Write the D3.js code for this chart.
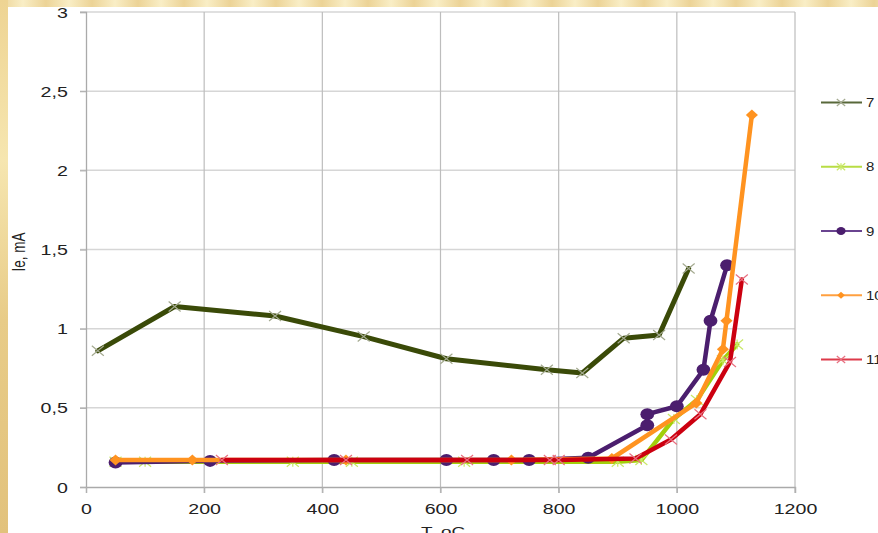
<!DOCTYPE html>
<html>
<head>
<meta charset="utf-8">
<script src="https://cdn.jsdelivr.net/npm/d3@7"></script>
<style>
  html, body { margin: 0; padding: 0; background: #fff; }
  svg { display: block; }
  text { font-family: "Liberation Sans", Arial, sans-serif; fill: #222; }
</style>
</head>
<body>
<svg id="chart" width="878" height="533"></svg>
<script>
// Emission current Ie (mA) versus temperature T (°C), five samples
const seriesNames = ["7", "8", "9", "10", "11"];

const t7  = [20, 150, 320, 470, 610, 780, 840, 910, 970, 1020];
const ie7 = [0.86, 1.14, 1.08, 0.95, 0.81, 0.74, 0.72, 0.94, 0.96, 1.38];

const t8  = [50, 100, 350, 450, 640, 900, 940, 995, 1034, 1078, 1102];
const ie8 = [0.16, 0.16, 0.16, 0.16, 0.16, 0.16, 0.17, 0.43, 0.55, 0.80, 0.90];

const t9  = [50, 210, 420, 610, 690, 750, 850, 950, 950, 1000, 1045, 1057, 1085];
const ie9 = [0.155, 0.165, 0.17, 0.17, 0.17, 0.17, 0.185, 0.39, 0.46, 0.51, 0.74, 1.05, 1.40];

const t10  = [50, 180, 440, 720, 890, 1033, 1078, 1084, 1127];
const ie10 = [0.17, 0.17, 0.17, 0.17, 0.18, 0.53, 0.87, 1.05, 2.35];

const t11  = [230, 440, 645, 785, 800, 930, 990, 1040, 1090, 1110];
const ie11 = [0.17, 0.17, 0.17, 0.17, 0.17, 0.18, 0.30, 0.46, 0.79, 1.31];

const xTicks = [0, 200, 400, 600, 800, 1000, 1200];
const yTicks = [0, 0.5, 1, 1.5, 2, 2.5, 3];

const seriesT  = [t7, t8, t9, t10, t11];
const seriesIe = [ie7, ie8, ie9, ie10, ie11];

const style = {
  "7":  { line: "#3a4a08", width: 5,   marker: "x",        mcolor: "#a4aa90", legend: "#58683a" },
  "8":  { line: "#a2cf0a", width: 4.5, marker: "asterisk", mcolor: "#c8e866", legend: "#b8dd44" },
  "9":  { line: "#4b1e6e", width: 4.5, marker: "circle",   mcolor: "#4b1e6e", legend: "#6a4490" },
  "10": { line: "#ff9320", width: 4.5, marker: "diamond",  mcolor: "#ff9320", legend: "#ffa040" },
  "11": { line: "#cc0010", width: 4.5, marker: "x",        mcolor: "#e87080", legend: "#dd3a4a" }
};

const svg = d3.select("#chart");
const W = 878, H = 533;
const SX = 1.4; // horizontal glyph stretch of the text

// Frame: beige strips along top and left edges
const defs = svg.append("defs");
const gTop = defs.append("linearGradient").attr("id", "frameTop")
  .attr("x1", 0).attr("x2", 1).attr("y1", 0).attr("y2", 0).attr("spreadMethod", "repeat")
  .attr("gradientUnits", "userSpaceOnUse").attr("x2", 46);
gTop.append("stop").attr("offset", "0%").attr("stop-color", "#ecd396");
gTop.append("stop").attr("offset", "50%").attr("stop-color", "#f9eec6");
gTop.append("stop").attr("offset", "100%").attr("stop-color", "#ecd396");
const gLeft = defs.append("linearGradient").attr("id", "frameLeft")
  .attr("x1", 0).attr("x2", 0).attr("y1", 0).attr("y2", 1);
gLeft.append("stop").attr("offset", "0%").attr("stop-color", "#eed493");
gLeft.append("stop").attr("offset", "30%").attr("stop-color", "#f6e6b0");
gLeft.append("stop").attr("offset", "60%").attr("stop-color", "#e8cc88");
gLeft.append("stop").attr("offset", "100%").attr("stop-color", "#e2c27c");

svg.append("rect").attr("x", 0).attr("y", 0).attr("width", W).attr("height", H).attr("fill", "#fff");
svg.append("rect").attr("x", 0).attr("y", 0).attr("width", W).attr("height", 7).attr("fill", "url(#frameTop)");
svg.append("rect").attr("x", 0).attr("y", 0).attr("width", 8).attr("height", H).attr("fill", "url(#frameLeft)");

// Scales
const x = d3.scaleLinear().domain([0, 1200]).range([86, 795]);
const y = d3.scaleLinear().domain([0, 3]).range([487, 12]);

// Grid
const grid = svg.append("g");
grid.selectAll("line.h").data(yTicks.filter(d => d > 0)).enter().append("line")
  .attr("x1", 80).attr("x2", x(1200))
  .attr("y1", d => y(d)).attr("y2", d => y(d))
  .attr("stroke", "#d6d6d6").attr("stroke-width", 1.5);
grid.selectAll("line.v").data(xTicks.filter(d => d > 0)).enter().append("line")
  .attr("x1", d => x(d)).attr("x2", d => x(d))
  .attr("y1", y(3)).attr("y2", y(0) + 6)
  .attr("stroke", "#bdbdbd").attr("stroke-width", 1.2);

// Axes
const fmtY = d => d3.format("")(d).replace(".", ",");
const yAxis = svg.append("g").attr("transform", `translate(${x(0)},0)`)
  .call(d3.axisLeft(y).tickValues(yTicks).tickSize(6).tickFormat(fmtY));
const xAxis = svg.append("g").attr("transform", `translate(0,${y(0)})`)
  .call(d3.axisBottom(x).tickValues(xTicks).tickSize(6).tickFormat(d3.format("")));

[yAxis, xAxis].forEach(a => {
  a.select(".domain").attr("stroke", "#aaaaaa").attr("stroke-width", 1.3);
  a.selectAll(".tick line").attr("stroke", "#b0b0b0").attr("stroke-width", 1.2);
  a.selectAll(".tick text").attr("font-size", 14).attr("fill", "#222")
    .style("font-family", "'Liberation Sans', Arial, sans-serif");
});
yAxis.selectAll(".tick text").attr("x", -13).attr("dy", "0.36em")
  .attr("transform", `scale(${SX},1)`);
xAxis.selectAll(".tick text").attr("y", 27).attr("dy", 0)
  .attr("transform", `scale(${SX},1)`);

// Axis titles
svg.append("text").attr("transform", `translate(25,252) scale(${SX},1) rotate(-90)`)
  .attr("text-anchor", "middle").attr("font-size", 13.5).text("Ie, mA");
svg.append("text").attr("transform", `translate(443,536) scale(${SX},1)`)
  .attr("text-anchor", "middle").attr("font-size", 13.5).text("T, oC");

// Marker drawing
function drawMarker(g, type, color, size) {
  if (type === "circle") {
    g.append("ellipse").attr("rx", size * 1.15).attr("ry", size).attr("fill", color);
  } else if (type === "diamond") {
    g.append("path").attr("d", `M0,${-size}L${size * 1.1},0L0,${size}L${-size * 1.1},0Z`).attr("fill", color);
  } else {
    const s = size;
    let d = `M${-s * 1.2},${-s}L${s * 1.2},${s}M${-s * 1.2},${s}L${s * 1.2},${-s}`;
    if (type === "asterisk") d += `M0,${-s}L0,${s}`;
    g.append("path").attr("d", d).attr("stroke", color).attr("stroke-width", 1.2).attr("fill", "none");
  }
}

const lineGen = d3.line().x(d => x(d[0])).y(d => y(d[1]));

const plot = svg.append("g");
seriesNames.forEach((name, i) => {
  const st = style[name];
  const pts = seriesT[i].map((t, k) => [t, seriesIe[i][k]]);
  const g = plot.append("g");
  g.append("path").datum(pts).attr("d", lineGen)
    .attr("fill", "none").attr("stroke", st.line).attr("stroke-width", st.width)
    .attr("stroke-linejoin", "round").attr("stroke-linecap", "round");
  g.selectAll("g.m").data(pts).enter().append("g")
    .attr("transform", d => `translate(${x(d[0])},${y(d[1])})`)
    .each(function () {
      const size = st.marker === "circle" ? 6 : (st.marker === "diamond" ? 5.5 : 5);
      drawMarker(d3.select(this), st.marker, st.mcolor, size);
    });
});

// Legend
const legendY = d3.scalePoint().domain(seriesNames).range([102.5, 359.5]);
const legend = svg.append("g");
seriesNames.forEach(name => {
  const st = style[name];
  const ly = legendY(name);
  legend.append("line").attr("x1", 821).attr("x2", 862).attr("y1", ly).attr("y2", ly)
    .attr("stroke", st.legend).attr("stroke-width", 2);
  const mg = legend.append("g").attr("transform", `translate(841,${ly})`);
  const size = st.marker === "circle" ? 4 : (st.marker === "diamond" ? 3.5 : 3.5);
  drawMarker(mg, st.marker, st.marker === "circle" || st.marker === "diamond" ? st.line : st.mcolor, size);
  legend.append("text").attr("transform", `translate(866,${ly + 4.5}) scale(1.2,1)`)
    .attr("font-size", 12.5).text(name);
});
</script>
</body>
</html>
